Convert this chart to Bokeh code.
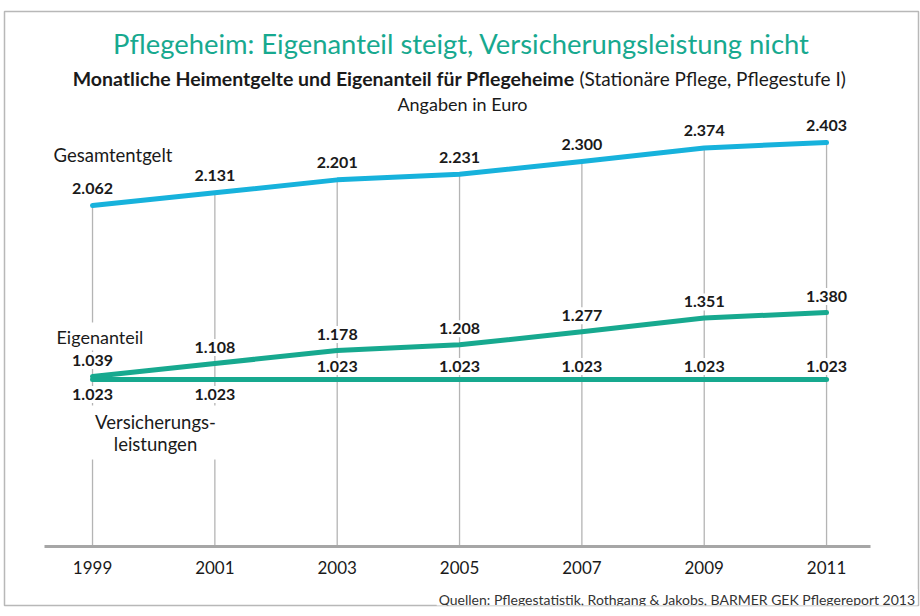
from bokeh.plotting import figure
from bokeh.models import Range1d, LinearAxis, FixedTicker, Label
from bokeh.core.properties import value
from bokeh.embed import file_html
from bokeh.resources import INLINE

# ---------------- data ----------------
YEARS = [1999, 2001, 2003, 2005, 2007, 2009, 2011]
YEAR_LABELS = ["1999", "2001", "2003", "2005", "2007", "2009", "2011"]
GESAMT = [2062, 2131, 2201, 2231, 2300, 2374, 2403]          # Gesamtentgelt
EIGEN = [1039, 1108, 1178, 1208, 1277, 1351, 1380]           # Eigenanteil
VERS = [1023, 1023, 1023, 1023, 1023, 1023, 1023]            # Versicherungsleistungen
VERS_LABEL_BELOW = [True, True, False, False, False, False, False]

TITLE = "Pflegeheim: Eigenanteil steigt, Versicherungsleistung nicht"
SUB_BOLD = "Monatliche Heimentgelte und Eigenanteil für Pflegeheime"
SUB_NORM = "(Stationäre Pflege, Pflegestufe I)"
UNIT = "Angaben in Euro"
SOURCE = "Quellen: Pflegestatistik, Rothgang & Jakobs, BARMER GEK Pflegereport 2013"

def de(v):
    return f"{v:,}".replace(",", ".")

# ---------------- layout ----------------
W, H = 920, 616
FRAME_L, FRAME_T, FRAME_W, FRAME_H = 4, 11, 914, 594
XR = (1997.561, 2012.503)
YR = (-182, 2985)       # Eigenanteil / Versicherung scale
GR = (-102, 3112)       # Gesamtentgelt scale
AXIS_G = 217            # position of the base line in the Gesamt scale

def dx(px):
    return XR[0] + (px - FRAME_L) * (XR[1] - XR[0]) / FRAME_W

def dy(py):
    return YR[1] - (py - FRAME_T) * (YR[1] - YR[0]) / FRAME_H

TEAL = "#17a98f"
BLUE = "#17b2dc"
GRID = "#b4b4b4"
DARK = "#1a1a1a"
FONT = "Lato"

p = figure(width=W, height=H, output_backend="svg", toolbar_location=None,
           x_range=Range1d(*XR), y_range=Range1d(*YR),
           x_axis_location=None, y_axis_location=None,
           min_border_left=FRAME_L, min_border_right=W - FRAME_L - FRAME_W,
           min_border_top=FRAME_T, min_border_bottom=H - FRAME_T - FRAME_H)
p.extra_y_ranges = {"gesamt": Range1d(*GR)}
p.grid.visible = False
p.outline_line_color = "#b8b8b8"
p.outline_line_width = 1.5
p.background_fill_color = "white"
p.border_fill_color = "white"

# base axis
ax = LinearAxis(y_range_name="gesamt", fixed_location=AXIS_G,
                ticker=FixedTicker(ticks=YEARS),
                major_label_overrides={y: l for y, l in zip(YEARS, YEAR_LABELS)},
                bounds=(dx(44), dx(870)))
ax.axis_line_color = "#a6a6a6"
ax.axis_line_width = 3
ax.major_tick_line_color = None
ax.minor_tick_line_color = None
ax.major_label_standoff = 8
ax.major_label_text_font = FONT
ax.major_label_text_font_size = "17px"
ax.major_label_text_color = DARK
p.add_layout(ax, "below")

# vertical guide lines from the Gesamtentgelt points down to the base line
p.segment(x0=YEARS, y0=GESAMT, x1=YEARS, y1=[AXIS_G] * len(YEARS),
          y_range_name="gesamt", line_color=GRID, line_width=1.3)

# lines
p.line(YEARS, GESAMT, y_range_name="gesamt", line_color=BLUE, line_width=5,
       line_cap="round", line_join="round")
p.line(YEARS, VERS, line_color=TEAL, line_width=5, line_cap="round", line_join="round")
p.line(YEARS, EIGEN, line_color=TEAL, line_width=5, line_cap="round", line_join="round")

common = dict(text_align="center", text_baseline="middle", text_font=value(FONT),
              text_font_style="bold", text_font_size="16px", text_color=DARK,
              background_fill_color="white", padding=3)

p.text(x=YEARS, y=GESAMT, text=[de(v) for v in GESAMT], y_range_name="gesamt",
       y_offset=-17, **common)
p.text(x=YEARS, y=EIGEN, text=[de(v) for v in EIGEN], y_offset=-16, **common)
p.text(x=YEARS, y=VERS, text=[de(v) for v in VERS],
       y_offset=[15 if b else -13 for b in VERS_LABEL_BELOW], **common)

# series names
def lab(text, px, py, align="left", size="18px", style="normal", color=DARK, bg=None,
        pad=0, lh=1.2):
    l = Label(x=dx(px), y=dy(py), text=text, text_align=align, text_baseline="middle",
              text_font=FONT, text_font_size=size, text_font_style=style, text_color=color,
              background_fill_color=bg, padding=pad, text_line_height=lh)
    p.add_layout(l)
    return l

lab("Gesamtentgelt", 53, 154, size="18.5px")
lab("Eigenanteil", 53, 336, bg="white", pad=3)
lab("Versicherungs-\nleistungen", 155, 432, align="center", size="18.5px", bg="white",
    pad=5, lh=1.0)

# titles
lab(TITLE, 461, 43, align="center", size="27.4px", color=TEAL)
lab(SUB_BOLD, 574, 78, align="right", size="19.5px", style="bold")
lab(SUB_NORM, 579, 78, align="left", size="19px")
lab(UNIT, 462, 103, align="center", size="18px")
lab(SOURCE, 917, 599, align="right", size="14px", color="#333333", bg="white", pad=2)

open("out.html", "w").write(file_html(p, INLINE))
